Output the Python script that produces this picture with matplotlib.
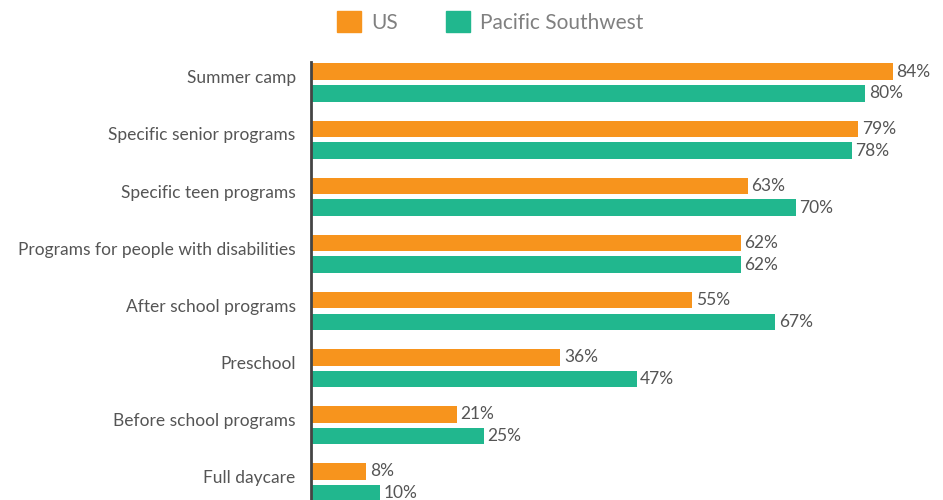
import matplotlib.pyplot as plt
from matplotlib.patches import Patch
import numpy as np

plt.rcParams['font.family'] = ['Lato', 'DejaVu Sans']

categories = ["Summer camp", "Specific senior programs", "Specific teen programs",
              "Programs for people with disabilities", "After school programs",
              "Preschool", "Before school programs", "Full daycare"]
us = [84, 79, 63, 62, 55, 36, 21, 8]
pacific_sw = [80, 78, 70, 62, 67, 47, 25, 10]

orange = "#F7941D"
green = "#21B78E"
text_col = "#555555"

fig = plt.figure(figsize=(9.43, 5), dpi=100)
ax = fig.add_axes([311 / 943, 0, 1 - 311 / 943, 1 - 62 / 500])

y = np.arange(len(categories))
off = 0.19
h = 0.29
ax.barh(y - off, us, height=h, color=orange)
ax.barh(y + off, pacific_sw, height=h, color=green)

for yi, v in zip(y - off, us):
    ax.text(v + 0.5, yi, f"{v}%", va="center", ha="left", fontsize=12.5, color=text_col)
for yi, v in zip(y + off, pacific_sw):
    ax.text(v + 0.5, yi, f"{v}%", va="center", ha="left", fontsize=12.5, color=text_col)

ax.set_xlim(0, 632 / 6.93)
ax.set_ylim(7.31, -0.36)
ax.set_yticks(y - 0.1)
ax.set_yticklabels(categories, fontsize=12.5, color=text_col)
ax.tick_params(axis="y", length=0, pad=11)
ax.set_xticks([])
for s in ["top", "right", "bottom"]:
    ax.spines[s].set_visible(False)
ax.spines["left"].set_color("#444444")
ax.spines["left"].set_linewidth(2)

handles = [Patch(color=orange, label="US"), Patch(color=green, label="Pacific Southwest")]
fig.legend(handles=handles, loc="upper left", bbox_to_anchor=(318 / 943, 1.015), ncol=2,
           frameon=False, fontsize=15, labelcolor="#808080", handlelength=1.15,
           handleheight=1.15, columnspacing=2.3, handletextpad=0.5)

fig.savefig("out.png", dpi=100)
